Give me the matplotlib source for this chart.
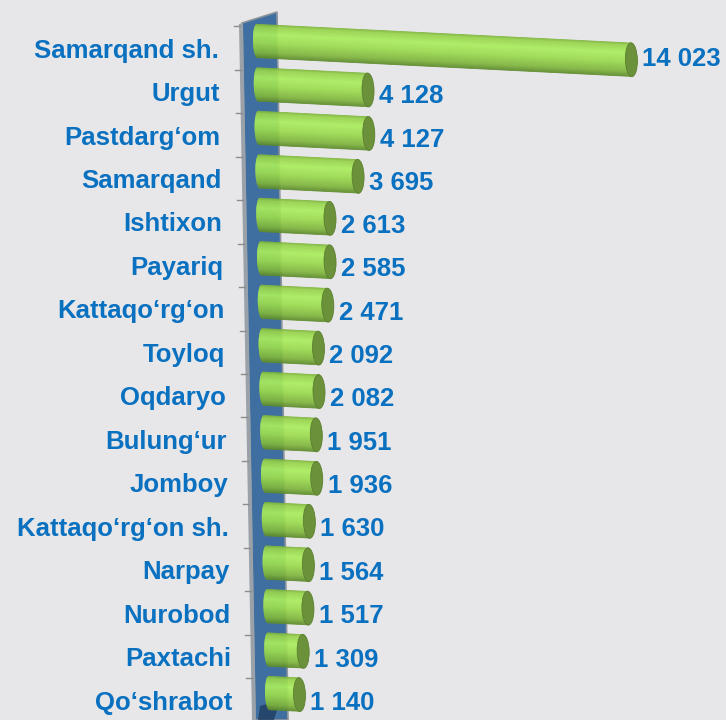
import numpy as np
import matplotlib.pyplot as plt
from matplotlib.patches import Ellipse, Polygon
from matplotlib.lines import Line2D
from matplotlib.transforms import Affine2D
from matplotlib.colors import LinearSegmentedColormap

#--------------------------------
# Data
#--------------------------------
regions = ["Samarqand sh.", "Urgut", "Pastdarg\u2018om", "Samarqand", "Ishtixon",
           "Payariq", "Kattaqo\u2018rg\u2018on", "Toyloq", "Oqdaryo", "Bulung\u2018ur",
           "Jomboy", "Kattaqo\u2018rg\u2018on sh.", "Narpay", "Nurobod", "Paxtachi",
           "Qo\u2018shrabot"]
values = [14023, 4128, 4127, 3695, 2613, 2585, 2471, 2092, 2082, 1951,
          1936, 1630, 1564, 1517, 1309, 1140]
value_labels = [f"{v:,}".replace(",", " ") for v in values]

#--------------------------------
# Style
#--------------------------------
BG = '#e7e7e9'
BLUE = '#0a70c0'
WALL = '#3f6fa1'
WALL_EDGE = '#8e959c'
CAP = '#6b923a'
FS = 18.5
plt.rcParams['font.family'] = ['Liberation Sans', 'DejaVu Sans']

W, H = 726, 720
PX = 0.0267        # pixels per value unit
X0 = 257           # pixel where value 0 sits on first row
ROW0, ROWH = 48, 43.47
SLANT = 30         # x shift per row (value units), follows the wall
TILT = 3.07e-5     # bars tilt down to the right (rows per value unit)
h = 0.78           # cylinder thickness (rows)
CAPW = 12 / PX     # width of the end ellipse
RL = 4 / PX        # depth of rounded left end

fig = plt.figure(figsize=(W / 100, H / 100), dpi=100, facecolor=BG)
ax = fig.add_axes([0, 0, 1, 1])
ax.set_facecolor(BG)
ax.axis('off')
ax.set_xlim(-X0 / PX, (W - X0) / PX)
ax.set_ylim((H - ROW0) / ROWH, -ROW0 / ROWH)

def px(x, y):
    return (x / W, 1 - y / H)

#--------------------------------
# Back wall with ticks (drawn inside the axes, behind the bars)
#--------------------------------
ax.add_patch(Polygon([px(242, 23), px(277, 12), px(288, 720), px(255, 720)],
                     closed=True, fc=WALL, ec=WALL_EDGE, lw=1.2,
                     transform=fig.transFigure, zorder=1))
ax.add_patch(Polygon([px(239, 24), px(243, 23), px(256, 720), px(252, 720)],
                     closed=True, fc='#9aa1a8', lw=0,
                     transform=fig.transFigure, zorder=1))
# dark shading at the foot of the wall
ax.add_patch(Polygon([px(260, 706), px(280, 700), px(274, 720), px(258, 720)],
                     closed=True, fc='#1f3d62', lw=0, alpha=0.8,
                     transform=fig.transFigure, zorder=1))
for i in range(-1, len(values) - 1):
    ty = ROW0 + ROWH * (i + 0.5)
    wx = 240 + (ty - 23) * 13 / 697
    ax.add_line(Line2D([wx - 6, wx], [1 - ty / H] * 2, color='#8c8c8c', lw=1,
                       transform=Affine2D().scale(1 / W, 1) + fig.transFigure,
                       zorder=1))

#--------------------------------
# Cylinders
#--------------------------------
shear = Affine2D(np.array([[1, SLANT, 0], [TILT, 1, -0.161], [0, 0, 1]])) + ax.transData
cmap = LinearSegmentedColormap.from_list('cyl', [
    (0.0, '#7cb23a'), (0.08, '#98d44c'), (0.3, '#abee5f'),
    (0.55, '#9ddd50'), (0.85, '#7fb53d'), (1.0, '#5d8a2c')])

y = np.arange(len(values))
vals = np.array(values, dtype=float)
n = 70
for k in range(n):
    t = (k + 0.5) / n
    left = -RL * np.sqrt(1 - (2 * t - 1) ** 2)
    ax.barh(y - h / 2 + t * h, vals - left, height=h / n * 1.6, left=left,
            color=cmap(t), lw=0, transform=shear, zorder=3)

for i, v in enumerate(values):
    ax.add_patch(Ellipse((v, i), width=CAPW, height=h, fc=CAP, ec='#5b7f2e',
                         lw=0.6, transform=shear, zorder=4))

#--------------------------------
# Labels
#--------------------------------
for i, (name, v, lab) in enumerate(zip(regions, values, value_labels)):
    ax.text((219 + 0.9 * i - X0) / PX, i + 0.06, name, ha='right', va='center',
            fontsize=FS, fontweight='bold', color=BLUE)
    ax.text(v + SLANT * i + 11 / PX, i + 0.48 * TILT * v + 0.05, lab, ha='left',
            va='center', fontsize=FS, fontweight='bold', color=BLUE)

plt.savefig('out.png', dpi=100, facecolor=BG)
